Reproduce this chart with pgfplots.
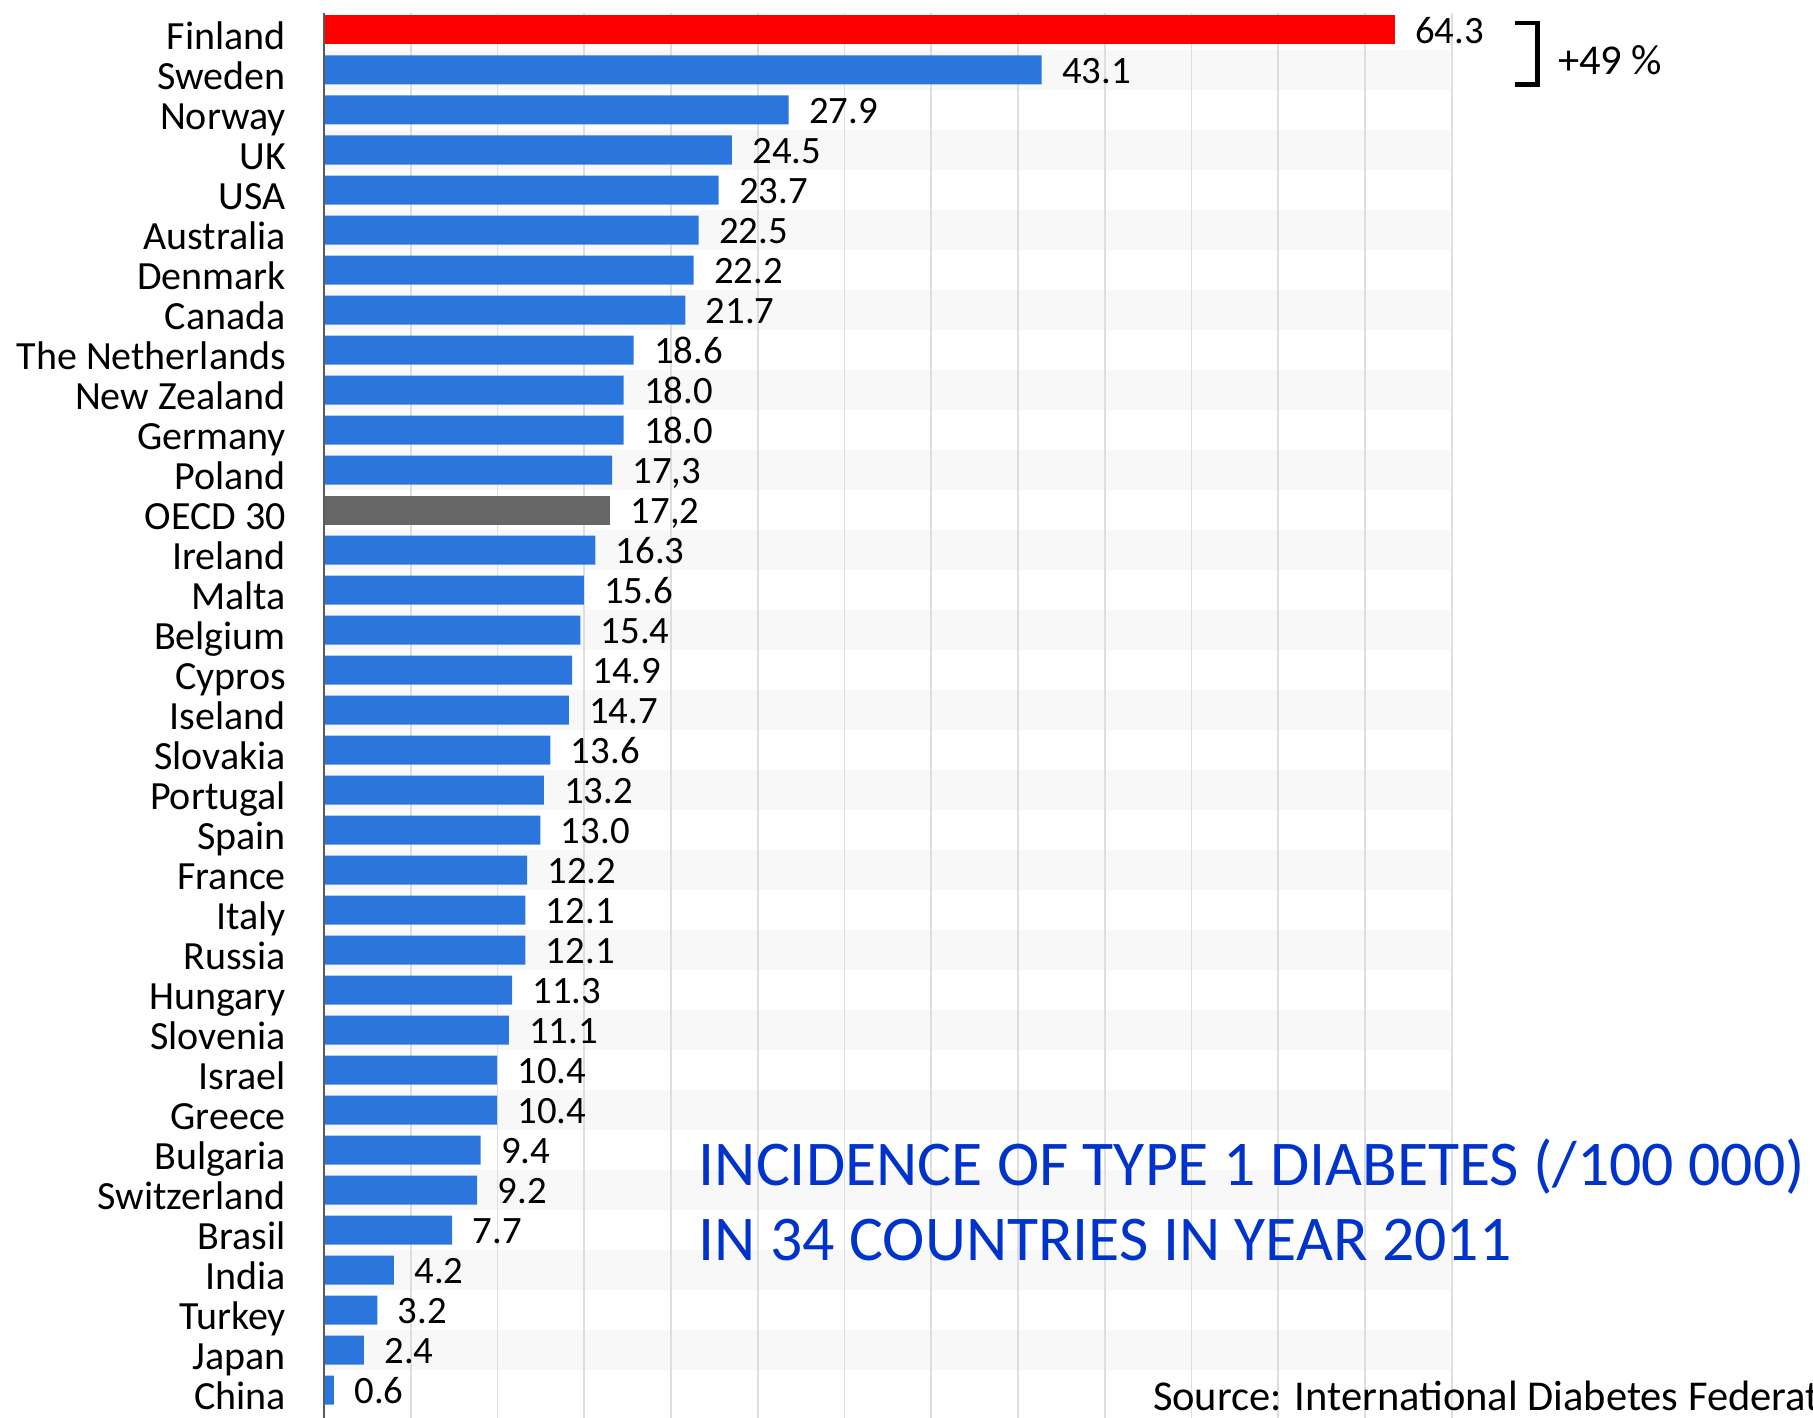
\documentclass[border=0pt]{standalone}
\usepackage{fontspec}
\setmainfont{Carlito}
\usepackage{pgfplots}
\pgfplotsset{compat=1.18}
\usepackage{pgfplotstable}

\definecolor{barblue}{RGB}{42,118,221}
\definecolor{oecdgray}{RGB}{102,102,102}
\definecolor{titleblue}{RGB}{0,51,204}
\definecolor{gridgray}{RGB}{222,222,222}
\definecolor{bandgray}{RGB}{248,248,248}
\definecolor{axisgray}{RGB}{90,90,90}

% incidence per 100 000, one row per country (row 0 at the top)
\pgfplotstableread{
val row label
64.3 0 64.3
}\finland
\pgfplotstableread{
val row label
17.2 12 17,2
}\oecd
\pgfplotstableread{
val row label
43.1 1 43.1
27.9 2 27.9
24.5 3 24.5
23.7 4 23.7
22.5 5 22.5
22.2 6 22.2
21.7 7 21.7
18.6 8 18.6
18.0 9 18.0
18.0 10 18.0
17.3 11 17,3
16.3 13 16.3
15.6 14 15.6
15.4 15 15.4
14.9 16 14.9
14.7 17 14.7
13.6 18 13.6
13.2 19 13.2
13.0 20 13.0
12.2 21 12.2
12.1 22 12.1
12.1 23 12.1
11.3 24 11.3
11.1 25 11.1
10.4 26 10.4
10.4 27 10.4
9.4 28 9.4
9.2 29 9.2
7.7 30 7.7
4.2 31 4.2
3.2 32 3.2
2.4 33 2.4
0.6 34 0.6
}\countries

\begin{document}
\begin{tikzpicture}
\begin{axis}[
  at={(129.6pt,-5.2pt)}, anchor=north west,
  scale only axis, width=452.9pt, height=562pt,
  xmin=0, xmax=68, ymin=-0.425, ymax=34.7, y dir=reverse,
  xbar, bar width=11.6pt, bar shift=0pt,
  axis line style={draw=none},
  tick style={draw=none},
  xtick={5.21,10.42,15.63,20.84,26.05,31.26,36.47,41.68,46.89,52.10,57.31,62.52,67.73},
  xticklabels={},
  xmajorgrids,
  major grid style={gridgray, line width=0.7pt},
  ytick={0,...,34},
  yticklabels={Finland,Sweden,Norway,UK,USA,Australia,Denmark,Canada,The Netherlands,New Zealand,Germany,Poland,OECD 30,Ireland,Malta,Belgium,Cypros,Iseland,Slovakia,Portugal,Spain,France,Italy,Russia,Hungary,Slovenia,Israel,Greece,Bulgaria,Switzerland,Brasil,India,Turkey,Japan,China},
  yticklabel style={font=\fontsize{16}{16}\selectfont, anchor=east, inner sep=0pt,
    text height=0pt, text depth=0pt, xshift=-10.8pt, yshift=-7.8pt},
  point meta=explicit symbolic,
  nodes near coords={\pgfplotspointmeta},
  nodes near coords style={font=\fontsize{15.5}{15.5}\selectfont, anchor=west, inner sep=0pt,
    text height=0pt, text depth=0pt, xshift=8pt, yshift=-5.5pt, text=black},
  set layers, clip=false,
]
% alternating row bands
\begin{pgfonlayer}{axis background}
\pgfplotsinvokeforeach{0.5,2.5,...,32.5}{
  \fill[bandgray] (axis cs:0,#1) rectangle ([yshift=-16pt]axis cs:67.6,#1);
}
\end{pgfonlayer}
\addplot[draw=none, fill=barblue] table[x=val, y=row, meta=label] {\countries};
\addplot[draw=none, fill=oecdgray] table[x=val, y=row, meta=label] {\oecd};
\addplot[draw=none, fill=red] table[x=val, y=row, meta=label] {\finland};
\draw[axisgray, line width=1pt] (axis cs:0,-0.425) -- (axis cs:0,34.7);
\end{axis}

% difference between Finland and Sweden
\draw[line width=1.8pt] (606pt,-9.2pt) -| (615pt,-33.8pt) -- (606pt,-33.8pt);
\node[anchor=base west, inner sep=0pt, font=\fontsize{17}{17}\selectfont] at (623pt,-30pt) {+49 \%};

\node[anchor=base west, inner sep=0pt, text=titleblue, font=\fontsize{25.5}{25.5}\selectfont]
  at (279.3pt,-474pt) {INCIDENCE OF TYPE 1 DIABETES (/100 000)};
\node[anchor=base west, inner sep=0pt, text=titleblue, font=\fontsize{25.5}{25.5}\selectfont]
  at (279.3pt,-504pt) {IN 34 COUNTRIES IN YEAR 2011};
\node[anchor=base west, inner sep=0pt, font=\fontsize{17}{17}\selectfont]
  at (461pt,-564.3pt) {Source: International Diabetes Federation};

\pgfresetboundingbox
\path[use as bounding box] (0,0) rectangle (725.2pt,-567.2pt);
\end{tikzpicture}
\end{document}
